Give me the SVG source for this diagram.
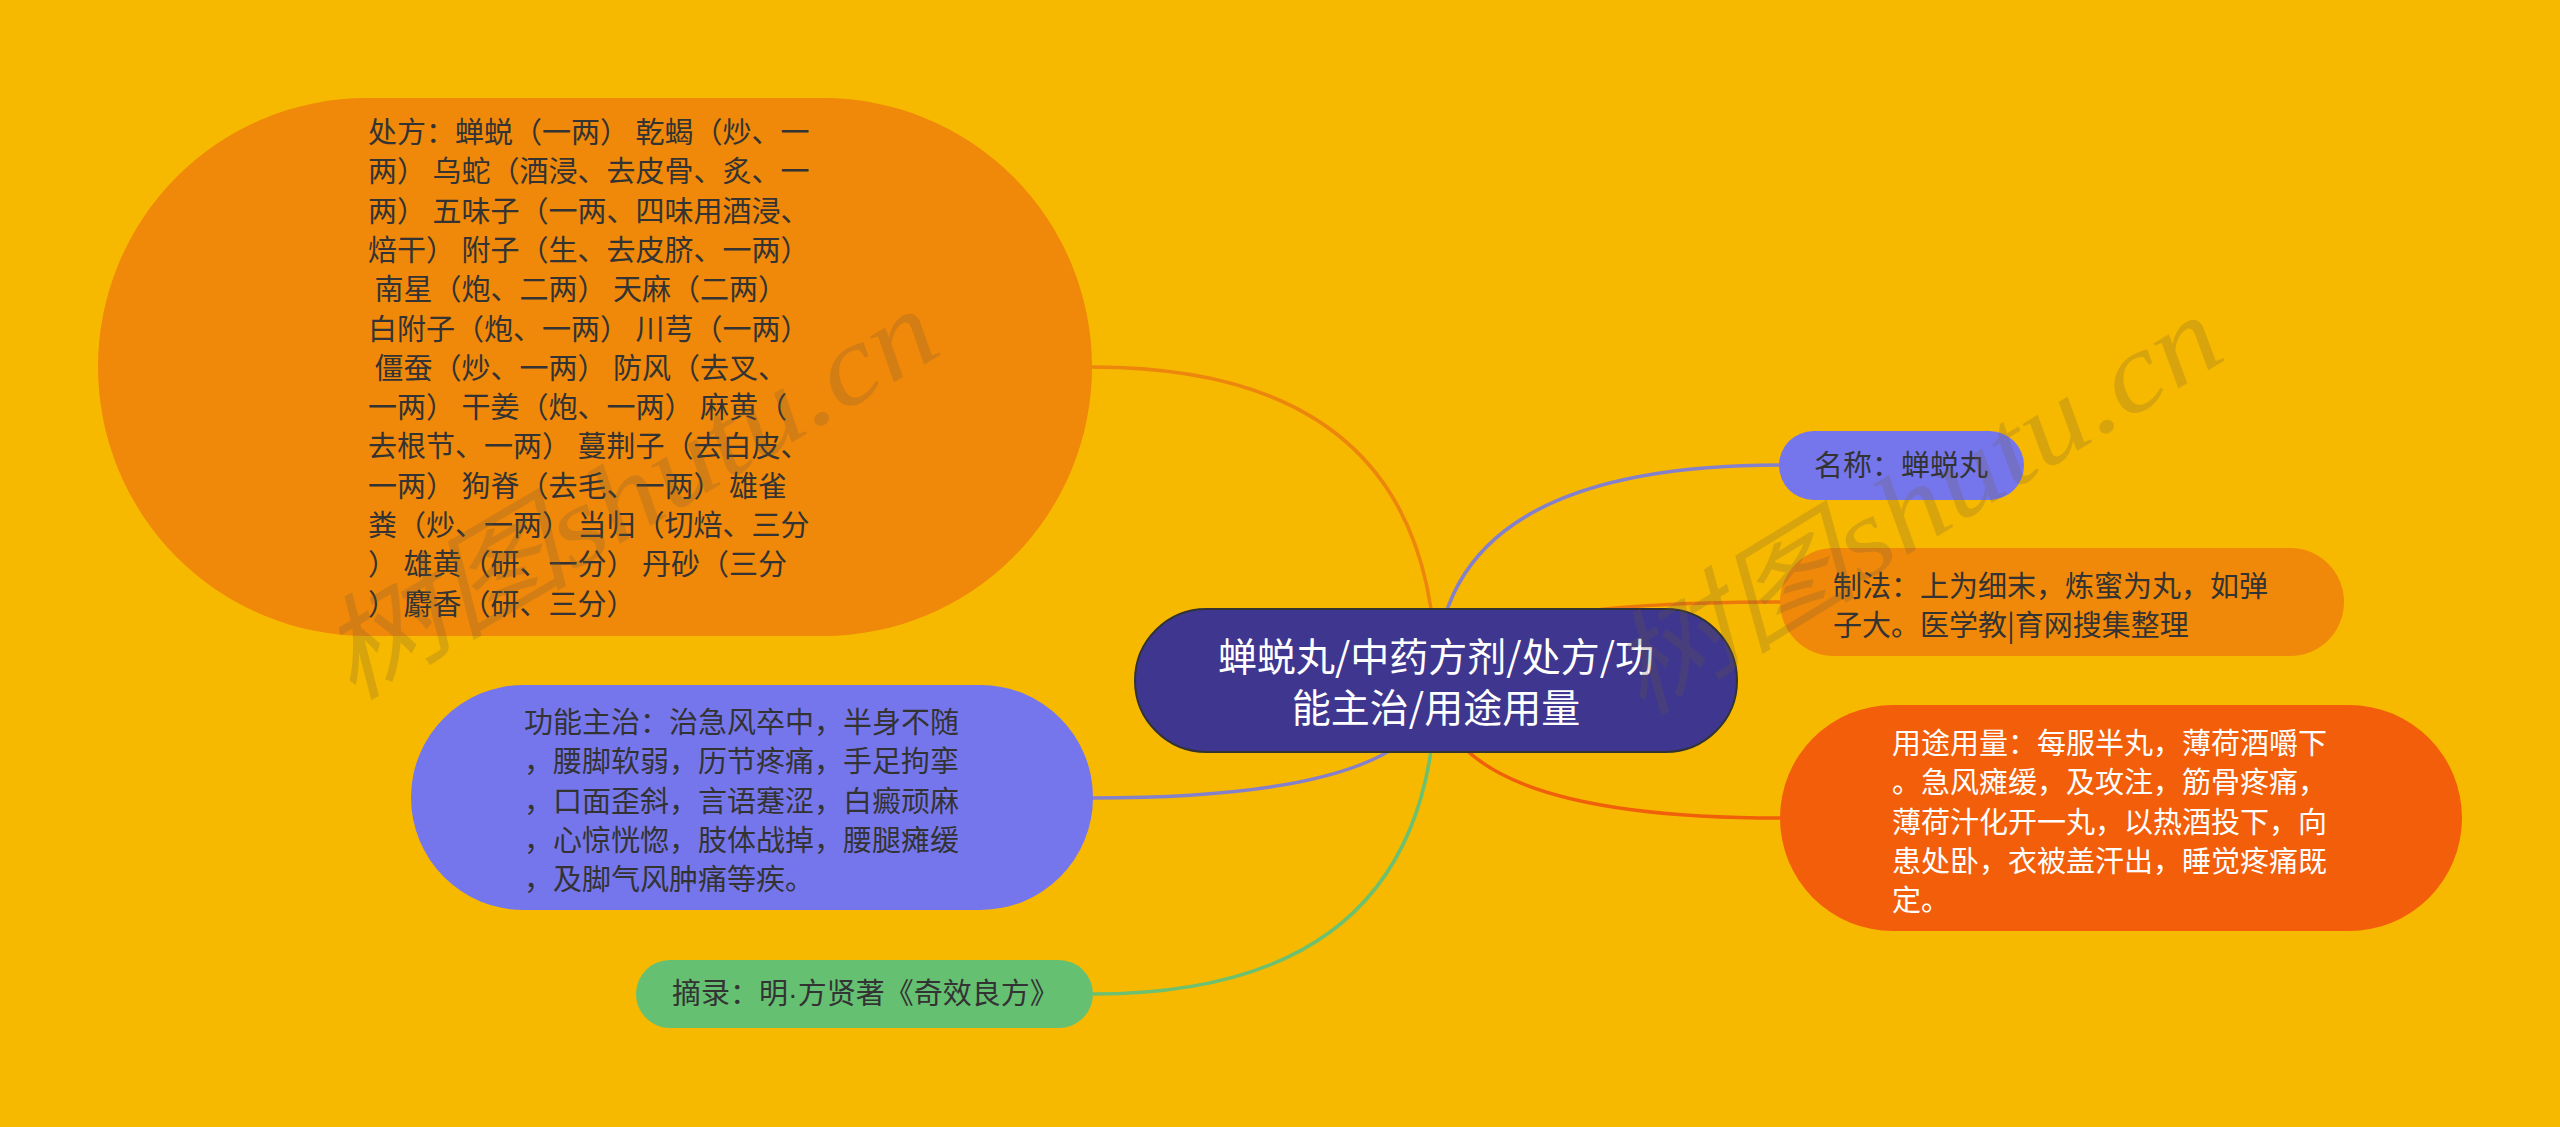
<svg xmlns="http://www.w3.org/2000/svg" width="2560" height="1127" viewBox="0 0 2560 1127">
<style>
text { font-family: "Noto Sans CJK SC", "Noto Sans", sans-serif; }
.t { font-size: 29px; fill: #333333; }
.w { fill: #ffffff; }
.c { fill: none; stroke-width: 3.5; stroke-linecap: round; }
.dot { font-family: "Liberation Sans", sans-serif; }
.wm { font-family: "Liberation Serif", "Noto Sans CJK SC", serif; font-style: italic; font-size: 112px; fill: #6b5a3a; fill-opacity: 0.22; }
</style>
<rect width="2560" height="1127" fill="#f6b900"/>
<g id="connectors">
<path class="c" stroke="#ec860c" d="M1436,680 Q1436,367 1092,367"/>
<path class="c" stroke="#8480cc" d="M1436,680 Q1436,798 1093,798"/>
<path class="c" stroke="#6cc070" d="M1436,680 Q1436,994 1093,994"/>
<path class="c" stroke="#8480cc" d="M1436,680 Q1436,465 1780,465"/>
<path class="c" stroke="#ec780c" d="M1436,680 Q1436,602 1780,602"/>
<path class="c" stroke="#f0600a" d="M1436,680 Q1436,818 1780,818"/>
</g>
<g id="node-chufang">
<rect x="98" y="98" width="994" height="538" rx="269" fill="#f0880a"/>
<text class="t" xml:space="preserve"><tspan x="368" y="143">处方：蝉蜕（一两） 乾蝎（炒、一</tspan><tspan x="368" y="182.3">两） 乌蛇（酒浸、去皮骨、炙、一</tspan><tspan x="368" y="221.6">两） 五味子（一两、四味用酒浸、</tspan><tspan x="368" y="260.9">焙干） 附子（生、去皮脐、一两）</tspan><tspan x="368" y="300.2"> 南星（炮、二两） 天麻（二两）</tspan><tspan x="368" y="339.5">白附子（炮、一两） 川芎（一两）</tspan><tspan x="368" y="378.8"> 僵蚕（炒、一两） 防风（去叉、</tspan><tspan x="368" y="418.1">一两） 干姜（炮、一两） 麻黄（</tspan><tspan x="368" y="457.4">去根节、一两） 蔓荆子（去白皮、</tspan><tspan x="368" y="496.7">一两） 狗脊（去毛、一两） 雄雀</tspan><tspan x="368" y="536">粪（炒、一两） 当归（切焙、三分</tspan><tspan x="368" y="575.3">） 雄黄（研、一分） 丹砂（三分</tspan><tspan x="368" y="614.6">） 麝香（研、三分）</tspan></text>
</g>
<g id="node-gongneng">
<rect x="411" y="685" width="682" height="225" rx="112.5" fill="#7676ec"/>
<text class="t"><tspan x="524" y="733">功能主治：治急风卒中，半身不随</tspan><tspan x="524" y="772.3">，腰脚软弱，历节疼痛，手足拘挛</tspan><tspan x="524" y="811.6">，口面歪斜，言语蹇涩，白癜顽麻</tspan><tspan x="524" y="850.9">，心惊恍惚，肢体战掉，腰腿瘫缓</tspan><tspan x="524" y="890.2">，及脚气风肿痛等疾。</tspan></text>
</g>
<g id="node-zhailu">
<rect x="636" y="960" width="457" height="68" rx="34" fill="#66c072"/>
<text class="t" x="672" y="1004">摘录：明<tspan class="dot">·</tspan>方贤著《奇效良方》</text>
</g>
<g id="node-center">
<rect x="1135" y="609" width="602" height="143" rx="71.5" fill="#3f378f" stroke="#333333" stroke-width="2"/>
<text class="w" font-size="39" text-anchor="middle"><tspan x="1436" y="671">蝉蜕丸/中药方剂/处方/功</tspan><tspan x="1436" y="722">能主治/用途用量</tspan></text>
</g>
<g id="node-mingcheng">
<rect x="1779" y="431" width="245" height="69" rx="34.5" fill="#7676ec"/>
<text class="t" x="1814" y="476">名称：蝉蜕丸</text>
</g>
<g id="node-zhifa">
<rect x="1780" y="548" width="564" height="108" rx="54" fill="#f0880a"/>
<text class="t"><tspan x="1833" y="597">制法：上为细末，炼蜜为丸，如弹</tspan><tspan x="1833" y="636">子大。医学教|育网搜集整理</tspan></text>
</g>
<g id="node-yongtu">
<rect x="1780" y="705" width="682" height="226" rx="113" fill="#f25e0a"/>
<text class="t w"><tspan x="1892" y="754">用途用量：每服半丸，薄荷酒嚼下</tspan><tspan x="1892" y="793.3">。急风瘫缓，及攻注，筋骨疼痛，</tspan><tspan x="1892" y="832.6">薄荷汁化开一丸，以热酒投下，向</tspan><tspan x="1892" y="871.9">患处卧，衣被盖汗出，睡觉疼痛既</tspan><tspan x="1892" y="911.2">定。</tspan></text>
</g>
<g id="watermark">
<text class="wm" transform="translate(351,702) rotate(-30.5)" textLength="690" lengthAdjust="spacingAndGlyphs">树图shutu.cn</text>
<text class="wm" transform="translate(1641,718) rotate(-31.5)" textLength="690" lengthAdjust="spacingAndGlyphs">树图shutu.cn</text>
</g>
</svg>
